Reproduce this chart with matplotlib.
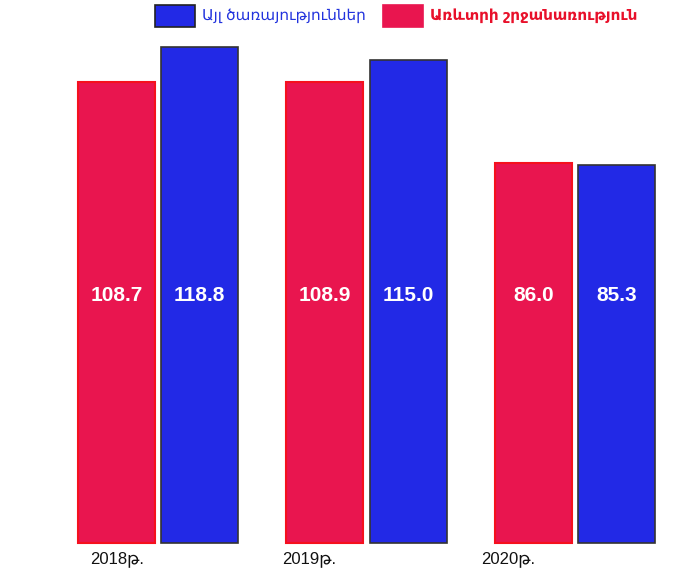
import matplotlib.pyplot as plt
from matplotlib.patches import Rectangle

years = ['2018թ.', '2019թ.', '2020թ.']
trade = [108.7, 108.9, 86.0]
services = [118.8, 115.0, 85.3]

trade_label = 'Առևտրի շրջանառություն'
services_label = 'Այլ ծառայություններ'

RED = '#E9154F'
RED_EDGE = '#F5101E'
BLUE = '#2229E6'
BLUE_EDGE = '#333333'

base = -21.4
width = 0.37
fam = ['Liberation Sans', 'DejaVu Sans']

fig = plt.figure(figsize=(6.9, 5.7), dpi=100)
ax = fig.add_axes([0, 0, 1, 1])
ax.set_xlim(-0.758, 2.552)
ax.set_ylim(-29.0, 132.0)
ax.axis('off')

x = list(range(len(years)))
ax.bar([i - 0.2 for i in x], [v - base for v in trade], width, bottom=base,
       color=RED, edgecolor=RED_EDGE, linewidth=1.5)
ax.bar([i + 0.2 for i in x], [v - base for v in services], width, bottom=base,
       color=BLUE, edgecolor=BLUE_EDGE, linewidth=1.2)

# value labels sit on one line across the middle
for i in x:
    ax.text(i - 0.2, 0.481, f'{trade[i]:.1f}', transform=ax.get_xaxis_transform(),
            ha='center', va='center', color='white', fontsize=15,
            fontweight='bold', family=fam)
    ax.text(i + 0.2, 0.481, f'{services[i]:.1f}', transform=ax.get_xaxis_transform(),
            ha='center', va='center', color='white', fontsize=15,
            fontweight='bold', family=fam)

# year labels drift left of the group centre
label_offsets = [-0.197, -0.276, -0.321]
for i in x:
    ax.text(i + label_offsets[i], 0.019, years[i], transform=ax.get_xaxis_transform(),
            ha='center', va='center', color='#111111', fontsize=12, family=fam)

# legend drawn by hand at the top
W, H = 690.0, 570.0
fig.patches.append(Rectangle((155 / W, 1 - 27 / H), 40 / W, 22 / H, transform=fig.transFigure,
                             facecolor=BLUE, edgecolor='#222222', linewidth=1.2))
fig.text(202 / W, 1 - 16 / H, services_label, color='#2233DD', fontsize=11,
         va='center', ha='left', family=fam)
fig.patches.append(Rectangle((383 / W, 1 - 27 / H), 40 / W, 22 / H, transform=fig.transFigure,
                             facecolor=RED, edgecolor=RED, linewidth=1.2))
fig.text(430 / W, 1 - 16 / H, trade_label, color='#E8102A', fontsize=11, fontweight='bold',
         va='center', ha='left', family=fam)

fig.savefig('out.png', dpi=100)
